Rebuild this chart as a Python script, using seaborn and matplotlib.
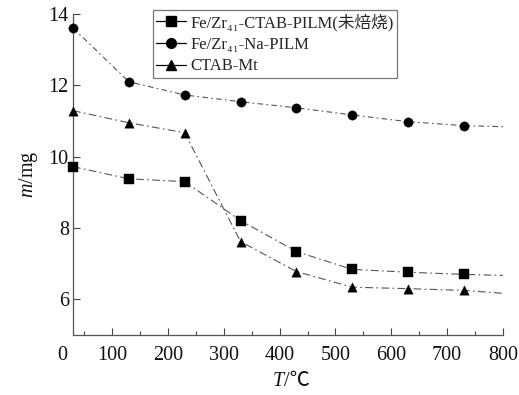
import matplotlib
matplotlib.use("Agg")
import matplotlib.pyplot as plt
from matplotlib.lines import Line2D
import seaborn as sns
import pandas as pd

# ---- data ----
temps = [30, 130, 230, 330, 430, 530, 630, 730]
end_temp = 800
mass_ctab_pilm = [9.72, 9.38, 9.30, 8.21, 7.34, 6.84, 6.76, 6.70]
mass_na_pilm = [13.61, 12.10, 11.73, 11.54, 11.37, 11.17, 10.98, 10.87]
mass_ctab_mt = [11.29, 10.95, 10.67, 7.62, 6.78, 6.34, 6.30, 6.25]
end_values = [6.67, 10.84, 6.17]
series_labels = ["Fe/Zr₄₁-CTAB-PILM(未焙烧)", "Fe/Zr₄₁-Na-PILM", "CTAB-Mt"]
series_markers = ["s", "o", "^"]
x_ticks = [100, 200, 300, 400, 500, 600, 700, 800]
y_ticks = [6, 8, 10, 12, 14]

sns.set_theme(style="ticks")
plt.rcParams["font.family"] = ["Liberation Serif", "Noto Sans CJK SC", "DejaVu Sans"]
plt.rcParams["mathtext.fontset"] = "custom"
plt.rcParams["mathtext.rm"] = "Liberation Serif"
plt.rcParams["mathtext.it"] = "Liberation Serif:italic"

fig = plt.figure(figsize=(5.19, 3.95), dpi=100)
ax = fig.add_axes([73 / 519, 1 - 335 / 395, 430 / 519, (335 - 14) / 395])

line_color = "#555555"
dash_styles = [(0, (7, 3, 1.5, 3)), (0, (5, 3, 1.5, 3)), (0, (7, 3, 1.5, 3))]
all_series = [mass_ctab_pilm, mass_na_pilm, mass_ctab_mt]
handles = []
for vals, endv, lab, mk, ls in zip(all_series, end_values, series_labels, series_markers, dash_styles):
    df = pd.DataFrame({"T": temps + [end_temp], "m": vals + [endv]})
    sns.lineplot(data=df, x="T", y="m", ax=ax, color=line_color, lw=0.8,
                 linestyle=ls, sort=False)
    pts = pd.DataFrame({"T": temps, "m": vals})
    sns.scatterplot(data=pts, x="T", y="m", ax=ax, marker=mk, color="black",
                    s=45, edgecolor="black", linewidth=0.3, zorder=5, clip_on=False)
    handles.append(Line2D([], [], color="black", lw=0.9, marker=mk, markersize=7,
                          markerfacecolor="black", markeredgecolor="black"))

ax.set_xlim(30, 800)
ax.set_ylim(5, 14)
ax.set_xticks(x_ticks)
ax.set_xticks([50, 150, 250, 350, 450, 550, 650, 750], minor=True)
ax.set_yticks(y_ticks)
ax.set_xticklabels([str(t) for t in x_ticks])
ax.set_yticklabels([str(t) for t in y_ticks])
ax.tick_params(axis="both", which="major", direction="in", length=5, width=0.8,
               colors="#444444", labelcolor="#111111", labelsize=14.5)
ax.tick_params(axis="x", which="major", pad=8)
ax.tick_params(axis="y", which="major", pad=3)
ax.tick_params(axis="x", which="minor", direction="in", length=3, width=0.8, colors="#444444")
ax.text((62 - 73) / 430, (335 - 356) / 321, "0", transform=ax.transAxes,
        fontsize=14.5, ha="center", va="center", color="#111111")

for side in ["top", "right"]:
    ax.spines[side].set_visible(False)
for side in ["left", "bottom"]:
    ax.spines[side].set_color("#555555")
    ax.spines[side].set_linewidth(0.9)

# x label: italic T followed by "/℃"
split_x = (284 - 73) / 430
label_y = (335 - 382) / 321
ax.text(split_x, label_y, "T", transform=ax.transAxes, fontsize=14.5,
        style="italic", ha="right", va="center", color="#111111")
ax.text(split_x, label_y, "/℃", transform=ax.transAxes, fontsize=14.5,
        ha="left", va="center", color="#111111")
ax.set_xlabel("")
ax.set_ylabel("$m$/mg", fontsize=14.5, labelpad=6, color="#111111")

leg = ax.legend(handles, series_labels, loc="upper left",
                bbox_to_anchor=(153 / 519, 1 - 10 / 395), bbox_transform=fig.transFigure,
                fontsize=12.0, frameon=True, fancybox=False, handlelength=1.8,
                handletextpad=0.25, labelspacing=0.34, borderpad=0.2, borderaxespad=0)
leg.get_frame().set_edgecolor("#555555")
leg.get_frame().set_linewidth(0.9)

fig.savefig("out.png", dpi=100)
